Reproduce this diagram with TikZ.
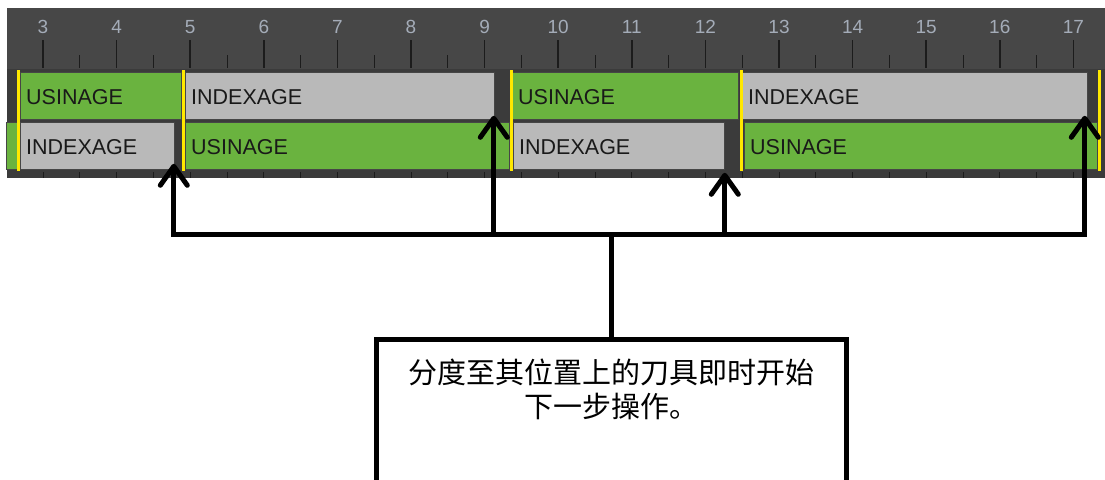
\documentclass[tikz,border=0pt]{standalone}
\usepackage{fontspec}
\newfontfamily\cjk{Noto Sans CJK SC}
\newfontfamily\uifont{Liberation Sans}
\usetikzlibrary{arrows.meta,calc}
\definecolor{rulerbg}{RGB}{71,71,71}
\definecolor{trackbg}{RGB}{59,59,59}
\definecolor{bargreen}{RGB}{106,179,63}
\definecolor{bargray}{RGB}{185,185,185}
\definecolor{baredge}{RGB}{70,70,70}
\definecolor{markyellow}{RGB}{255,232,0}
\definecolor{numcol}{RGB}{164,172,184}
\definecolor{tickcol}{RGB}{28,28,28}
\definecolor{lblcol}{RGB}{25,25,25}
\tikzset{
  bar/.style={draw=baredge, line width=0.8pt, rectangle, inner sep=0pt, minimum height=#1, anchor=north west},
  gbar/.style={bar=47, fill=bargreen},
  ibar/.style={bar=47, fill=bargray},
  lbl/.style={anchor=west, xshift=6pt, yshift=-1.5pt, font=\uifont\fontsize{21.5}{21.5}\selectfont, text=lblcol, inner sep=0pt},
  num/.style={font=\uifont\fontsize{19}{19}\selectfont, text=numcol, inner sep=0pt},
  majtick/.style={draw=tickcol, line width=1.6pt},
  mintick/.style={draw=tickcol, line width=1pt},
  marker/.style={draw=markyellow, line width=3.5pt},
  conn/.style={draw=black, line width=5pt},
  tip/.tip={Straight Barb[length=19pt,width=27pt,round]},
  msgbox/.style={draw=black, line width=5pt, fill=white, minimum width=470, minimum height=144, anchor=north, inner sep=0pt},
}
\begin{document}
\begin{tikzpicture}[x=1pt,y=-1pt]
\useasboundingbox (0,0) rectangle (1105,479);
\clip (0,0) rectangle (1105,479);
% panel
\fill[rulerbg] (7,8) rectangle (1105,69);
\fill[trackbg] (7,69) rectangle (1105,178);
% ruler
\foreach \n in {3,...,17} {
  \node[num] (n\n) at ({43+(\n-3)*73.6},27) {\n};
  \draw[majtick] ({43+(\n-3)*73.6},40) -- ({43+(\n-3)*73.6},68);
}
\foreach \n in {3,...,16} {
  \draw[mintick] ({79.8+(\n-3)*73.6},55) -- ({79.8+(\n-3)*73.6},68);
}
\foreach \k in {0,...,28} {
  \draw[mintick] ({43+\k*36.8},172) -- ({43+\k*36.8},178);
}
% row 1
\node[gbar, minimum width=161, label={[lbl]west:USINAGE}] (g1) at (20,72) {};
\node[ibar, minimum width=309, label={[lbl]west:INDEXAGE}] (i1) at (185,72) {};
\node[gbar, minimum width=226, label={[lbl]west:USINAGE}] (g2) at (512,72) {};
\node[ibar, minimum width=345, label={[lbl]west:INDEXAGE}] (i2) at (742,72) {};
% row 2
\node[gbar, minimum width=12] (g0) at (6,122) {};
\node[ibar, minimum width=154, label={[lbl]west:INDEXAGE}] (i3) at (20,122) {};
\node[gbar, minimum width=324, label={[lbl]west:USINAGE}] (g3) at (185,122) {};
\node[ibar, minimum width=211, label={[lbl]west:INDEXAGE}] (i4) at (513,122) {};
\node[gbar, minimum width=353, label={[lbl]west:USINAGE}] (g4) at (744,122) {};
% yellow markers
\foreach \x in {18.5,183.5,511.5,741.5,1099.5} {
  \draw[marker] (\x,70) -- (\x,171);
}
% message box
\node[msgbox] (box) at (611,337) {};
\node[font=\cjk\fontsize{29}{34}\selectfont, align=center, anchor=north, inner sep=0pt] (msg) at ($(box.north)+(0,22)$) {分度至其位置上的刀具即时开始\\下一步操作。};
% connector tips and junctions
\coordinate (t1) at ($(i3.south east)+(-1,-6)$);
\coordinate (t2) at ($(i1.south east)+(-1,-4)$);
\coordinate (t3) at ($(i4.south east)+(0,3)$);
\coordinate (t4) at ($(i2.south east)+(-3,-4)$);
\coordinate (j1) at (t1 |- 0,234);
\coordinate (j4) at (t4 |- 0,234);
\draw[conn, {tip}-{tip}] (t1) -- (j1) -- (j4) -- (t4);
\draw[conn, -{tip}] (t2 |- j1) -- (t2);
\draw[conn, -{tip}] (t3 |- j1) -- (t3);
\draw[conn] (box.north) -- (box.north |- j1);
\end{tikzpicture}
\end{document}
